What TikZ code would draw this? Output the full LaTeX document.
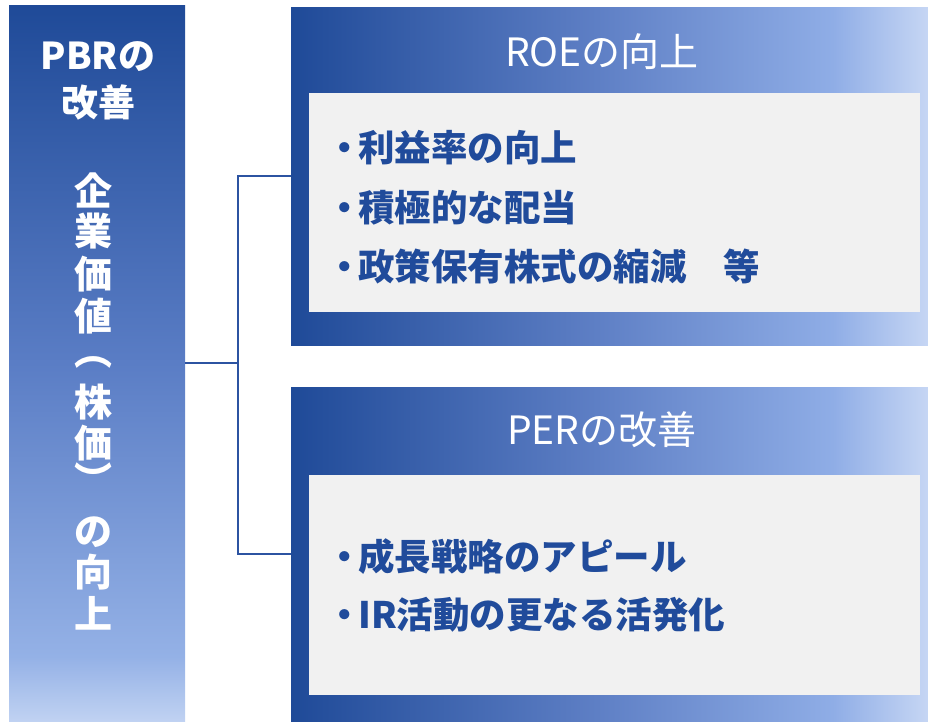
\documentclass[tikz,border=0pt]{standalone}
\usepackage{fontspec}
\setmainfont{Noto Sans CJK JP}
\usepackage{graphicx}
\definecolor{pdark}{HTML}{1F4A98}
\definecolor{pmidA}{HTML}{5E7FC5}
\definecolor{pmidB}{HTML}{8FADE6}
\definecolor{plight}{HTML}{C6D6F4}
\definecolor{vmid}{HTML}{5A7DC5}
\definecolor{vlow}{HTML}{94B1E6}
\definecolor{vlight}{HTML}{C0D2F2}
\definecolor{boxgray}{HTML}{F1F1F1}
\definecolor{txtblue}{HTML}{204B9B}
\definecolor{lineblue}{HTML}{2C53A1}
\pgfdeclarehorizontalshading{panelH}{100bp}{color(0bp)=(pdark); color(25bp)=(pdark); color(49bp)=(pmidA); color(67.5bp)=(pmidB); color(75bp)=(plight); color(100bp)=(plight)}
\pgfdeclareverticalshading{panelV}{100bp}{color(0bp)=(vlight); color(25bp)=(vlight); color(29.5bp)=(vlow); color(50bp)=(vmid); color(75bp)=(pdark); color(100bp)=(pdark)}
\begin{document}
\begin{tikzpicture}[x=1pt,y=-1pt,
  panel/.style={draw=none, inner sep=0pt, outer sep=0pt},
  graybox/.style={fill=boxgray, inner sep=0pt, outer sep=0pt},
  titletext/.style={text=white, inner sep=0pt, font=\fontsize{39}{42}\selectfont},
  bullettext/.style={anchor=west, inner sep=0pt, text=txtblue, font=\bfseries\fontsize{36.5}{38}\selectfont},
  lefttext/.style={text=white, inner sep=0pt, font=\bfseries\fontsize{37}{40}\selectfont},
  vch/.style={text=white, inner sep=0pt, font=\bfseries\fontsize{38}{40}\selectfont},
  conn/.style={draw=lineblue, line width=1.6pt}]
\useasboundingbox (0,0) rectangle (928,721);
% panels
\node[panel, shading=panelV, minimum width=176pt, minimum height=716pt] (pbr) at (97,363) {};
\node[panel, shading=panelH, minimum width=637pt, minimum height=338pt] (roe) at (609.5,176) {};
\node[panel, shading=panelH, minimum width=637pt, minimum height=334pt] (per) at (609.5,554) {};
\node[graybox, minimum width=611pt, minimum height=219pt] (roebox) at (614.5,202.5) {};
\node[graybox, minimum width=611pt, minimum height=220pt] (perbox) at (614.5,585) {};
% connectors
\coordinate (j) at (238,363);
\draw[conn] (pbr.east) -- (j);
\draw[conn] (roe.west) -- (roe.west -| j) -- (per.west -| j) -- (per.west);
% left texts
\node[lefttext] (pbrt) at (98,57) {PBRの};
\node[lefttext] (kaizen) at (98,102) {改善};
\node[vch] (v1) at (93,190) {企};
\node[vch] (v2) at (93,231) {業};
\node[vch] (v3) at (93,274) {価};
\node[vch] (v4) at (93,316) {値};
\node[vch] (v5) at (93,362) {︵};
\node[vch] (v6) at (93,402) {株};
\node[vch] (v7) at (93,443) {価};
\node[vch] (v8) at (93,479) {︶};
\node[vch] (v9) at (93,532) {の};
\node[vch] (v10) at (93,572) {向};
\node[vch] (v11) at (93,613) {上};
% titles
\node[titletext] (roet) at (602,52) {ROEの向上};
\node[titletext] (pert) at (602,430) {PERの改善};
% bullets
\node[bullettext] (b1) at (332,148) {\makebox[26pt]{・}利益率の向上};
\node[bullettext] (b2) at (332,208) {\makebox[26pt]{・}積極的な配当};
\node[bullettext] (b3) at (332,266) {\makebox[26pt]{・}政策保有株式の縮減　等};
\node[bullettext] (b4) at (332,557) {\makebox[26pt]{・}成長戦略のアピール};
\node[bullettext] (b5) at (332,615) {\makebox[26pt]{・}IR活動の更なる活発化};
\end{tikzpicture}
\end{document}
